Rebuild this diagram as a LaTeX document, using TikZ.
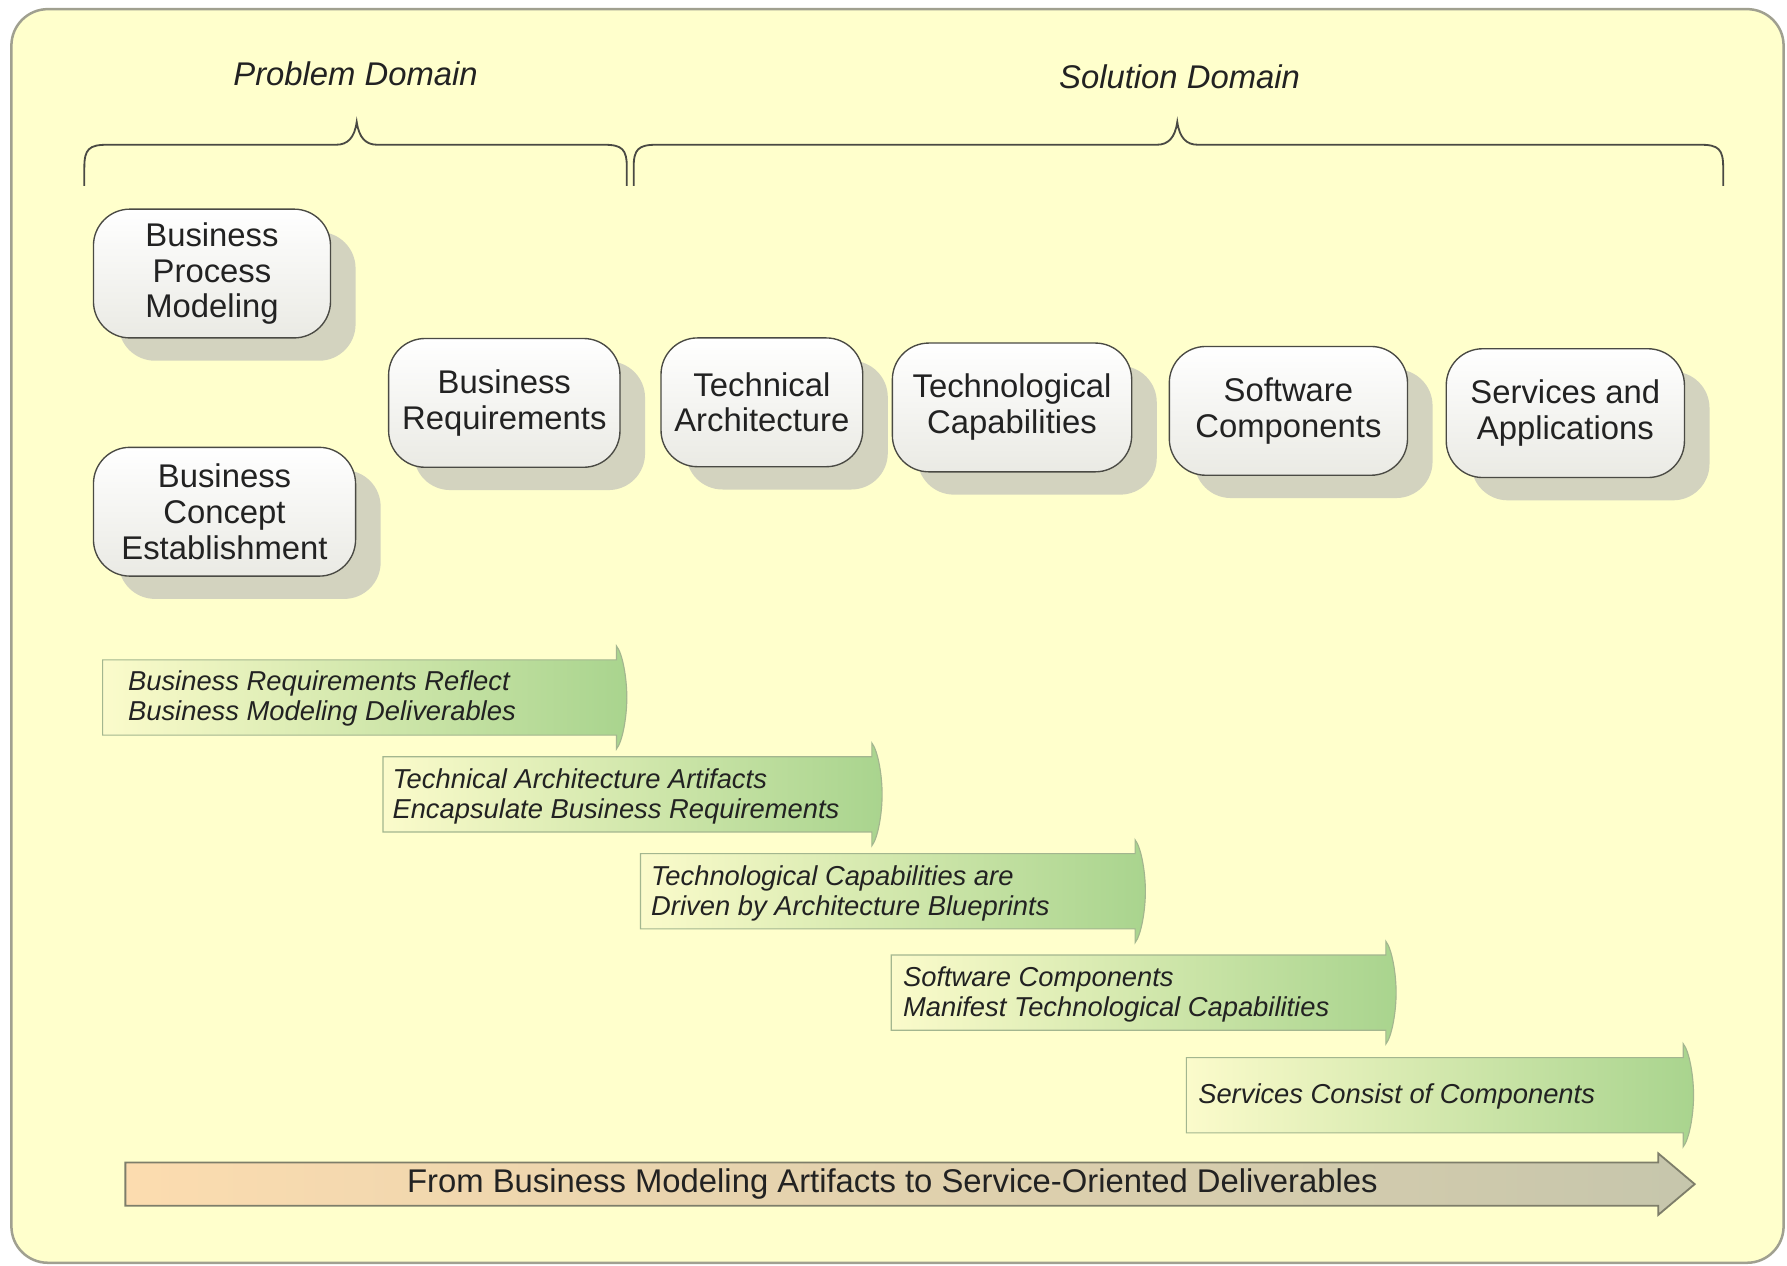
\documentclass[tikz,border=0pt]{standalone}
\usepackage{fontspec}
\setmainfont{Liberation Sans}
\usetikzlibrary{shadows}

\definecolor{paper}{HTML}{FFFFCC}
\definecolor{frameline}{HTML}{A0A090}
\definecolor{inkgray}{HTML}{222222}
\definecolor{boxline}{HTML}{4A4A44}
\definecolor{boxshade}{HTML}{D3D3BF}
\definecolor{boxfill}{HTML}{EAEAE4}
\definecolor{flowstart}{HTML}{FBFBCB}
\definecolor{flowend}{HTML}{A9D48E}
\definecolor{flowline}{HTML}{A3B68F}
\definecolor{trackstart}{HTML}{FCDCAF}
\definecolor{trackend}{HTML}{C6C6AC}
\definecolor{trackline}{HTML}{7E7E6A}

\tikzset{
  stage/.style={draw=boxline, line width=0.6pt, rounded corners=16pt,
    top color=white, bottom color=boxfill, text=inkgray, align=center,
    minimum height=56.5pt, inner sep=2pt,
    font=\fontsize{14.4}{15.75}\selectfont,
    drop shadow={shadow xshift=11pt, shadow yshift=-10pt, fill=boxshade, opacity=1}},
  flow/.style={draw=flowline, line width=0.5pt, left color=flowstart, right color=flowend},
  flowtext/.style={anchor=west, align=left, text=inkgray, inner sep=0pt,
    font=\fontsize{12}{13.2}\selectfont\itshape},
  track/.style={draw=trackline, line width=0.8pt, left color=trackstart, right color=trackend},
  tracktext/.style={text=inkgray, font=\fontsize{14.4}{16}\selectfont},
  domainlabel/.style={text=inkgray, font=\fontsize{14.4}{16}\selectfont\itshape},
  bracket/.style={draw=boxline, line width=0.8pt}
}

% green step arrow: left x, head x, top y
\newcommand{\flowshape}[3]{%
  \path[flow] (#1,#3) -- (#2,#3) -- (#2,#3-12)
    .. controls (#2+5,#3-6) and (#2+9,#3+15) .. (#2+9,#3+33)
    .. controls (#2+9,#3+51) and (#2+5,#3+72) .. (#2,#3+78)
    -- (#2,#3+66) -- (#1,#3+66) -- cycle;}

\begin{document}
\begin{tikzpicture}[x=0.5pt, y=-0.5pt]

\useasboundingbox (0,0) rectangle (1568,1110);

% frame
\draw[frameline, line width=1.1pt, fill=paper, rounded corners=16pt] (10,8) rectangle (1565,1108);

% domains
\node[domainlabel] (problem) at (312,65) {Problem Domain};
\node[domainlabel] (solution) at (1035,67) {Solution Domain};

\draw[bracket] (74,163) -- (74,147) .. controls (74,131) and (78,127) .. (94,127)
  -- (295,127) .. controls (305,127) and (311,121) .. (313,107)
  .. controls (315,121) and (321,127) .. (331,127)
  -- (530,127) .. controls (546,127) and (550,131) .. (550,147) -- (550,163);
\draw[bracket] (556,163) -- (556,147) .. controls (556,131) and (560,127) .. (576,127)
  -- (1015,127) .. controls (1025,127) and (1031,121) .. (1033,107)
  .. controls (1035,121) and (1041,127) .. (1051,127)
  -- (1492,127) .. controls (1508,127) and (1512,131) .. (1512,147) -- (1512,163);

% stages
\node[stage, minimum width=104pt] (bpm) at (186,240) {Business\\Process\\Modeling};
\node[stage, minimum width=115pt] (bce) at (197,449) {Business\\Concept\\Establishment};
\node[stage, minimum width=101.5pt] (breq) at (442.5,353.5) {Business\\Requirements};
\node[stage, minimum width=88.5pt] (tarch) at (668.5,353) {Technical\\Architecture};
\node[stage, minimum width=105pt] (tcap) at (888,357.5) {Technological\\Capabilities};
\node[stage, minimum width=104.5pt] (scomp) at (1130.5,360.5) {Software\\Components};
\node[stage, minimum width=104.5pt] (sapp) at (1373.5,362.5) {Services and\\Applications};

% step arrows
\flowshape{90}{541}{579}
\flowshape{336}{765}{664}
\flowshape{562}{996}{749}
\flowshape{782}{1216}{838}
\flowshape{1041}{1477}{928}

\node[flowtext] (reflect) at (112,613) {Business Requirements Reflect\\Business Modeling Deliverables};
\node[flowtext] (encapsulate) at (344,699) {Technical Architecture Artifacts\\Encapsulate Business Requirements};
\node[flowtext] (driven) at (571,784) {Technological Capabilities are\\Driven by Architecture Blueprints};
\node[flowtext] (manifest) at (792,872.5) {Software Components\\Manifest Technological Capabilities};
\node[flowtext] (consist) at (1051,962) {Services Consist of Components};

% overall direction
\path[track] (110,1020) -- (1455,1020) -- (1455,1012) -- (1487,1039)
  -- (1455,1066) -- (1455,1058) -- (110,1058) -- cycle;
\node[tracktext] (journey) at (783,1039) {From Business Modeling Artifacts to Service-Oriented Deliverables};

\end{tikzpicture}
\end{document}
